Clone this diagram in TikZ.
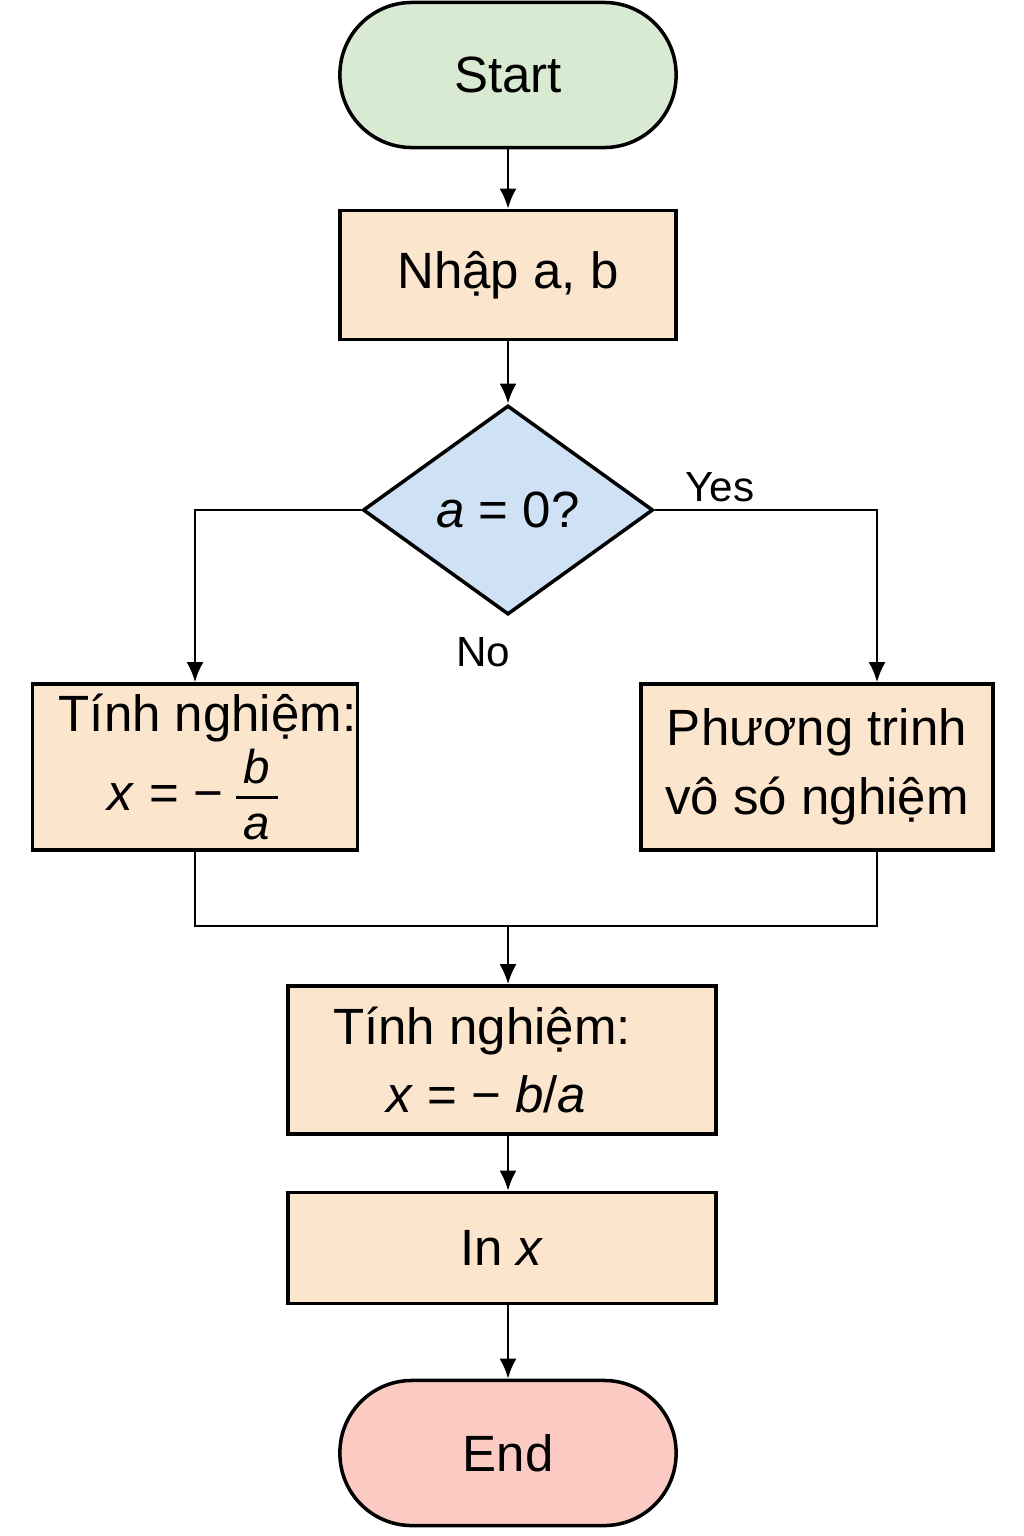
\documentclass[tikz,border=0pt]{standalone}
\usepackage{fontspec}
\setmainfont{Liberation Sans}
\usepackage{amsmath}
\usetikzlibrary{arrows.meta,shapes.geometric,positioning,calc}
\definecolor{StartGreen}{RGB}{217,234,211}
\definecolor{BoxPeach}{RGB}{252,229,205}
\definecolor{DecBlue}{RGB}{207,226,245}
\definecolor{EndPink}{RGB}{250,202,195}
\newcommand{\fracpart}[1]{\text{\fontsize{13.5}{13.5}\selectfont\itshape\,#1\,}}

\begin{document}
\begin{tikzpicture}[x=0.01cm,y=-0.01cm,
  term/.style={rectangle,draw,line width=1pt,rounded corners=0.72cm,minimum width=3.36cm,minimum height=1.45cm,font=\fontsize{14.5}{19.5}\selectfont},
  proc/.style={rectangle,draw,line width=1pt,fill=BoxPeach,align=center,inner sep=0pt,font=\fontsize{14.5}{19.5}\selectfont},
  dec/.style={diamond,draw,line width=1pt,fill=DecBlue,minimum width=2.9cm,minimum height=2.09cm,inner sep=0pt,font=\fontsize{14.5}{19.5}\selectfont},
  lbl/.style={font=\fontsize{12}{14}\selectfont},
  arr/.style={-{Latex[length=2mm,width=1.7mm]},line width=0.8pt}
]
  \useasboundingbox (0,0) rectangle (1024,1536);
  \node[term,fill=StartGreen] (start) at (508,75) {Start};
  \node[proc,minimum width=3.36cm,minimum height=1.29cm] (input) at (508,275) {Nhập a, b};
  \node[dec] (test) at (508,510) {\textit{a} = 0?};
  \node[proc,minimum width=3.25cm,minimum height=1.66cm] (root) at (195,767) {\hspace*{0.25cm}Tính nghiệm:\\[1pt] \textit{x} = −\,$\genfrac{}{}{0.9pt}{1}{\fracpart{b\rule[-2.5pt]{0pt}{1pt}}}{\fracpart{\rule{0pt}{10.5pt}a}}$};
  \node[proc,minimum width=3.52cm,minimum height=1.66cm] (none) at (817,767) {Phương trinh\\ vô só nghiệm};
  \node[proc,minimum width=4.28cm,minimum height=1.48cm] (calc) at (502,1060) {Tính nghiệm:\hspace*{0.4cm}\\ \textit{x} = − \textit{b}/\textit{a}\hspace*{0.32cm}};
  \node[proc,minimum width=4.28cm,minimum height=1.11cm] (output) at (502,1248) {In \textit{x}};
  \node[term,fill=EndPink] (end) at (508,1453) {End};
  \node[lbl] (yes) at (720,487) {Yes};
  \node[lbl] (no) at (483,652) {No};
  \coordinate (join) at (508,926);
  \draw[arr] (start) -- (input);
  \draw[arr] (input) -- (test);
  \draw[arr] (test.west) -| (root.north);
  \draw[arr] (test.east) -| ([xshift=0.6cm]none.north);
  \draw[line width=0.8pt] (root.south) |- (join) -| ([xshift=0.6cm]none.south);
  \draw[arr] (join) -- (join |- calc.north);
  \draw[arr] (calc.south -| join) -- (join |- output.north);
  \draw[arr] (output.south -| end) -- (end);
\end{tikzpicture}
\end{document}
